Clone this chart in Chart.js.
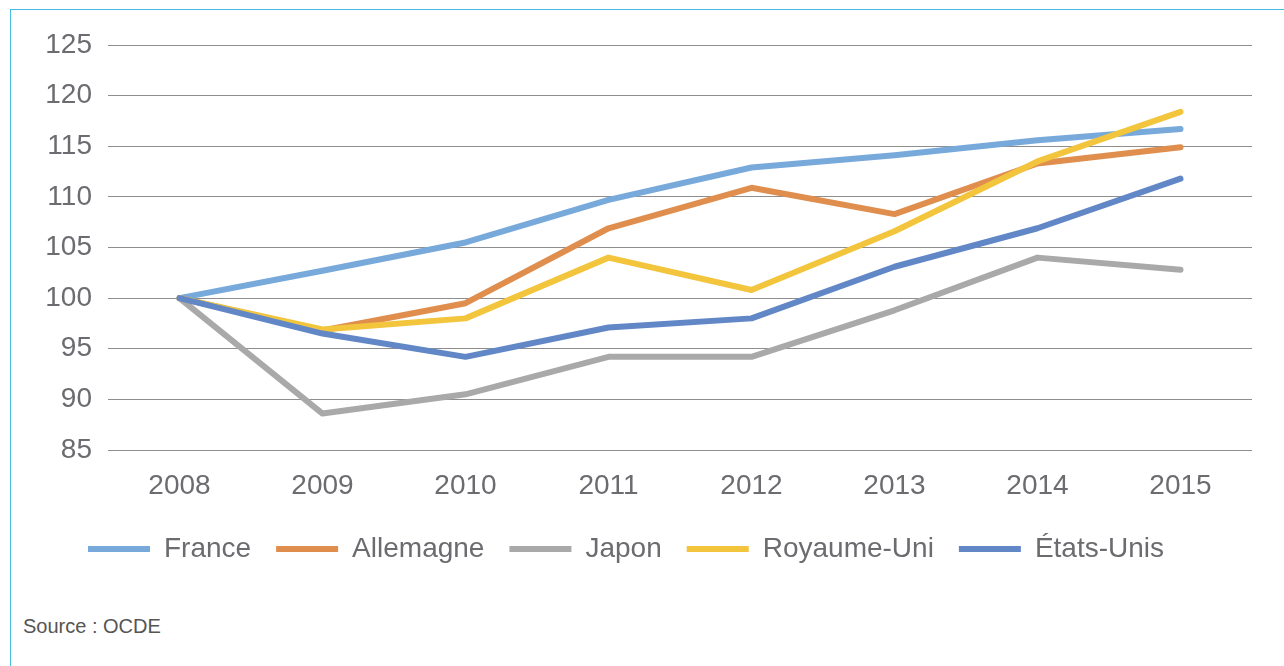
<!DOCTYPE html>
<html>
<head>
<meta charset="utf-8">
<script src="https://cdn.jsdelivr.net/npm/chart.js@4"></script>
<style>
  html, body { margin: 0; padding: 0; background: #fff; }
  #wrap { position: relative; width: 1284px; height: 666px; overflow: hidden; }
  #frame { position: absolute; left: 10px; top: 9px; right: 0; bottom: 0;
           border-left: 1px solid #45bbe6; border-top: 1px solid #45bbe6; }
  #graph { position: absolute; left: 0; top: 0; }
  #source { position: absolute; left: 23px; top: 615px; font: 20px "Liberation Sans", Arial, sans-serif; color: #555; }
</style>
</head>
<body>
<div id="wrap">
  <div id="frame"></div>
  <canvas id="graph" width="1284" height="600"></canvas>
  <div id="source">Source : OCDE</div>
</div>
<script>
// Années
const years = ["2008", "2009", "2010", "2011", "2012", "2013", "2014", "2015"];

// Indices (base 100 en 2008)
const france = [100, 102.7, 105.5, 109.7, 112.9, 114.1, 115.6, 116.7];
const allemagne = [100, 96.8, 99.5, 106.9, 110.9, 108.3, 113.3, 114.9];
const japon = [100, 88.6, 90.5, 94.2, 94.2, 98.8, 104.0, 102.8];
const royaumeUni = [100, 96.9, 98.0, 104.0, 100.8, 106.6, 113.5, 118.4];
const etatsUnis = [100, 96.5, 94.2, 97.1, 98.0, 103.1, 106.9, 111.8];

const yMin = 85;
const yMax = 125;
const yStep = 5;

function serie(label, values, color, order) {
  return {
    label: label,
    data: values,
    borderColor: color,
    backgroundColor: color,
    borderWidth: 6,
    borderCapStyle: "round",
    borderJoinStyle: "round",
    pointRadius: 0,
    tension: 0,
    fill: false,
    order: order
  };
}

const data = {
  labels: years,
  datasets: [
    serie("France", france, "#78a9db", 5),
    serie("Allemagne", allemagne, "#e08e4e", 4),
    serie("Japon", japon, "#a9a9a9", 3),
    serie("Royaume-Uni", royaumeUni, "#f2c53d", 2),
    serie("États-Unis", etatsUnis, "#6187c6", 1)
  ]
};

const fontFamily = '"Liberation Sans", Arial, sans-serif';
const textColor = "#6b6b70";

const options = {
  responsive: false,
  animation: false,
  layout: {
    padding: { left: 0, right: 32, top: 45, bottom: 27 }
  },
  scales: {
    x: {
      offset: true,
      grid: { display: false },
      border: { display: false },
      ticks: {
        color: textColor,
        font: { family: fontFamily, size: 28 },
        padding: 11,
        maxRotation: 0
      },
      afterFit: function(scale) { scale.height = 60; }
    },
    y: {
      min: yMin,
      max: yMax,
      border: { display: false },
      grid: { color: "#8e8e8e", lineWidth: 1, drawTicks: false },
      ticks: {
        stepSize: yStep,
        color: textColor,
        font: { family: fontFamily, size: 28 },
        padding: 16
      },
      afterFit: function(scale) { scale.width = 108; }
    }
  },
  plugins: {
    legend: {
      display: true,
      position: "bottom",
      labels: {
        boxWidth: 62,
        boxHeight: 6,
        padding: 25,
        color: textColor,
        font: { family: fontFamily, size: 28 },
        sort: function(a, b) { return a.datasetIndex - b.datasetIndex; },
        generateLabels: function(chart) {
          const items = Chart.defaults.plugins.legend.labels.generateLabels(chart);
          items.forEach(function(item) { item.lineWidth = 0; });
          return items;
        }
      }
    },
    tooltip: { enabled: false }
  }
};

const ctx = document.getElementById("graph").getContext("2d");
new Chart(ctx, {
  type: "line",
  data: data,
  options: options
});
</script>
</body>
</html>
